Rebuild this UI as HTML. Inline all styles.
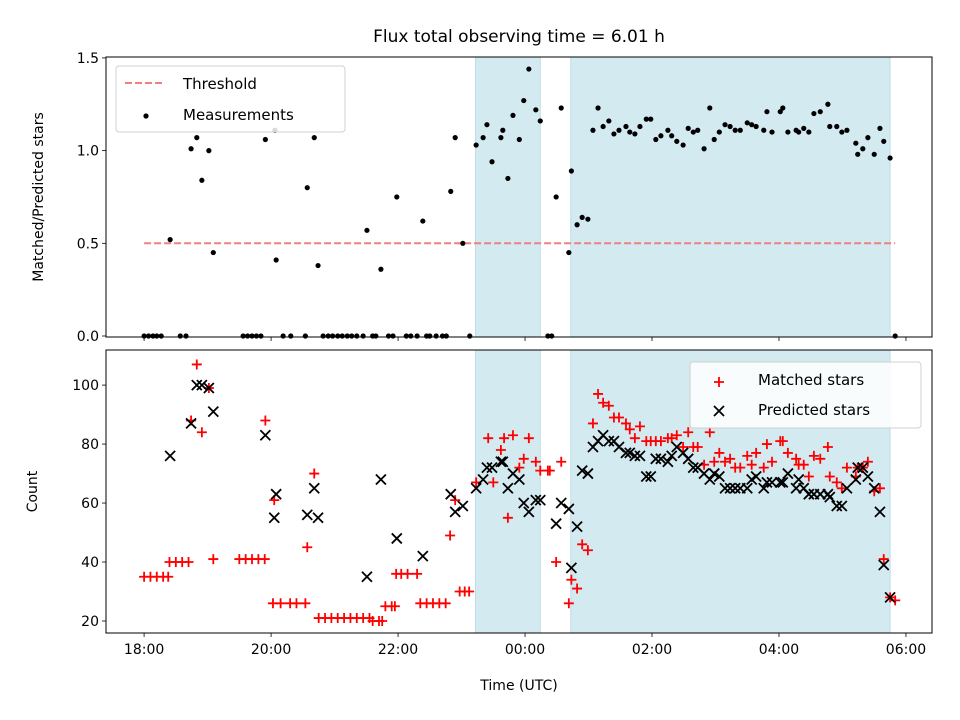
<!DOCTYPE html>
<html><head><meta charset="utf-8"><style>body{margin:0;background:#fff}svg{display:block;font-family:"DejaVu Sans","Liberation Sans",sans-serif}</style></head>
<body>
<svg id="c" width="960" height="720" xmlns="http://www.w3.org/2000/svg"></svg>
<script>
const xTickLabels=["18:00","20:00","22:00","00:00","02:00","04:00","06:00"];
const xTickHours=[0,2,4,6,8,10,12];
const topYTicks=[0,0.5,1.0,1.5];
const botYTicks=[20,40,60,80,100];
const shadeSpans=[[5.22,6.24],[6.72,11.75]];
const threshold=0.5;
const topT=[0,0.07,0.14,0.2,0.27,0.41,0.57,0.66,0.74,0.83,0.91,1.02,1.09,1.56,1.63,1.7,1.77,1.84,1.91,2.06,2.08,2.19,2.31,2.54,2.57,2.68,2.74,2.82,2.9,2.97,3.05,3.12,3.2,3.27,3.35,3.45,3.51,3.6,3.65,3.73,3.85,3.92,3.98,4.13,4.2,4.3,4.39,4.45,4.5,4.6,4.7,4.76,4.83,4.9,5.02,5.13,5.23,5.34,5.4,5.48,5.62,5.65,5.73,5.81,5.91,5.98,6.06,6.17,6.24,6.36,6.42,6.49,6.57,6.69,6.73,6.82,6.9,6.99,7.07,7.15,7.23,7.32,7.4,7.48,7.59,7.65,7.73,7.81,7.91,7.98,8.06,8.14,8.25,8.31,8.39,8.49,8.57,8.65,8.72,8.82,8.91,8.98,9.06,9.15,9.23,9.31,9.39,9.5,9.57,9.64,9.76,9.81,9.89,10.02,10.06,10.14,10.27,10.31,10.39,10.47,10.55,10.65,10.77,10.8,10.91,10.99,11.07,11.21,11.24,11.32,11.4,11.5,11.59,11.65,11.75,11.83];
const topV=[0,0,0,0,0,0.52,0,0,1.01,1.07,0.84,1.0,0.45,0,0,0,0,0,1.06,1.11,0.41,0,0,0,0.8,1.07,0.38,0,0,0,0,0,0,0,0,0,0.57,0,0,0.36,0,0,0.75,0,0,0,0.62,0,0,0,0,0,0.78,1.07,0.5,0,1.03,1.07,1.14,0.94,1.07,1.11,0.85,1.19,1.06,1.27,1.44,1.22,1.16,0,0,0.75,1.23,0.45,0.89,0.6,0.64,0.63,1.11,1.23,1.13,1.16,1.09,1.11,1.13,1.1,1.09,1.13,1.17,1.17,1.06,1.08,1.11,1.08,1.05,1.03,1.12,1.1,1.11,1.01,1.23,1.06,1.1,1.14,1.13,1.11,1.11,1.15,1.14,1.13,1.11,1.21,1.1,1.21,1.23,1.1,1.11,1.1,1.12,1.1,1.2,1.21,1.25,1.13,1.13,1.1,1.11,1.04,0.98,1.01,1.07,0.98,1.12,1.05,0.96,0];
const matchedT=[0,0.1,0.2,0.3,0.38,0.4,0.5,0.6,0.7,0.74,0.83,0.91,1.02,1.09,1.5,1.6,1.7,1.8,1.9,1.91,2.03,2.05,2.15,2.3,2.4,2.54,2.57,2.68,2.75,2.85,2.95,3.05,3.15,3.25,3.35,3.45,3.55,3.6,3.7,3.75,3.8,3.9,3.95,3.97,4.05,4.15,4.3,4.35,4.45,4.55,4.65,4.75,4.82,4.9,4.97,5.05,5.12,5.23,5.42,5.5,5.62,5.67,5.73,5.81,5.91,5.98,6.06,6.17,6.24,6.36,6.39,6.49,6.57,6.69,6.73,6.82,6.9,6.99,7.07,7.15,7.23,7.32,7.4,7.48,7.59,7.65,7.73,7.81,7.91,7.98,8.06,8.14,8.25,8.31,8.39,8.49,8.57,8.65,8.72,8.82,8.91,8.98,9.06,9.15,9.23,9.31,9.39,9.5,9.57,9.64,9.76,9.81,9.89,10.02,10.06,10.14,10.27,10.31,10.39,10.47,10.55,10.65,10.77,10.8,10.91,10.99,11.07,11.21,11.24,11.32,11.4,11.5,11.59,11.65,11.75,11.83];
const matchedV=[35,35,35,35,35,40,40,40,40,88,107,84,99,41,41,41,41,41,41,88,26,61,26,26,26,26,45,70,21,21,21,21,21,21,21,21,21,20,20,20,25,25,25,36,36,36,36,26,26,26,26,26,49,61,30,30,30,67,82,67,78,82,55,83,72,75,82,74,71,71,71,40,74,26,34,31,46,44,87,97,94,93,89,89,87,85,82,86,81,81,81,81,82,82,83,79,84,79,79,73,84,74,77,74,75,72,72,76,73,77,72,80,74,81,81,77,75,73,73,69,76,75,79,69,67,65,72,69,72,72,74,64,65,41,28,27];
const predT=[0.41,0.74,0.83,0.91,1.02,1.09,1.91,2.05,2.08,2.57,2.68,2.74,3.51,3.73,3.98,4.39,4.83,4.9,5.02,5.23,5.34,5.4,5.48,5.62,5.65,5.73,5.81,5.91,5.98,6.06,6.17,6.24,6.49,6.57,6.69,6.73,6.82,6.9,6.99,7.07,7.15,7.23,7.32,7.4,7.48,7.59,7.65,7.73,7.81,7.91,7.98,8.06,8.14,8.25,8.31,8.39,8.49,8.57,8.65,8.72,8.82,8.91,8.98,9.06,9.15,9.23,9.31,9.39,9.5,9.57,9.64,9.76,9.81,9.89,10.02,10.06,10.14,10.27,10.31,10.39,10.47,10.55,10.65,10.77,10.8,10.91,10.99,11.07,11.21,11.24,11.32,11.4,11.5,11.59,11.65,11.75];
const predV=[76,87,100,100,99,91,83,55,63,56,65,55,35,68,48,42,63,57,59,65,68,72,72,74,74,65,70,68,60,57,61,61,53,60,58,38,52,71,70,79,81,83,81,81,79,77,77,76,76,69,69,75,75,74,76,79,77,75,72,72,70,68,70,69,65,65,65,65,65,68,69,65,67,67,67,67,70,65,68,65,63,63,63,63,62,59,59,65,68,72,72,69,65,57,39,28];

const svg=document.getElementById('c');const NS='http://www.w3.org/2000/svg';
function mk(tag,attrs,parent){const e=document.createElementNS(NS,tag);for(const k in attrs)e.setAttribute(k,attrs[k]);(parent||svg).appendChild(e);return e;}
const L=106,R=932;const T0=-0.6,T1=12.41;
const xS=t=>L+(t-T0)/(T1-T0)*(R-L);
const tA={top:57,bot:337,y0:-0.0054,y1:1.505};
const bA={top:350,bot:633,y0:15.93,y1:111.9};
const yT=v=>tA.bot-(v-tA.y0)/(tA.y1-tA.y0)*(tA.bot-tA.top);
const yB=v=>bA.bot-(v-bA.y0)/(bA.y1-bA.y0)*(bA.bot-bA.top);
function txt(x,y,s,anchor,size,name,extra){const e=mk('text',Object.assign({x:x,y:y,'text-anchor':anchor,'font-size':size,fill:'#000'},extra||{}));e.textContent=s;return e;}

txt(519,42,'Flux total observing time = 6.01 h','middle',17,'chart-title');

function panel(A,yF,ticks,tickFmt,label,pname,showXLabels){
  const g=mk('g',{});
  
  
  shadeSpans.forEach((s,i)=>{const r=mk('rect',{x:xS(s[0]),y:A.top,width:xS(s[1])-xS(s[0]),height:A.bot-A.top,fill:'#d4eaf1',stroke:'#bcdde8','stroke-width':1},g);
    
    });
  ticks.forEach(v=>{const y=yF(v);mk('line',{x1:L-4,x2:L,y1:y,y2:y,stroke:'#000','stroke-width':0.8},g);
    txt(L-7,y+5,tickFmt(v),'end',14,'y-tick-label');});
  xTickHours.forEach((h,i)=>{const x=xS(h);mk('line',{x1:x,x2:x,y1:A.bot,y2:A.bot+4,stroke:'#000','stroke-width':0.8},g);
    if(showXLabels)txt(x,A.bot+21,xTickLabels[i],'middle',14,'x-tick-label');});
  txt(0,0,label,'middle',14,'y-axis-title',{transform:`translate(${pname==='top-panel'?43:37},${(A.top+A.bot)/2}) rotate(-90)`});
  return g;
}
panel(tA,yT,topYTicks,v=>v.toFixed(1),'Matched/Predicted stars','top-panel',false);
panel(bA,yB,botYTicks,v=>String(v),'Count','bottom-panel',true);
txt(519,690,'Time (UTC)','middle',14,'x-axis-title');

const th=mk('line',{x1:xS(0),x2:xS(11.83),y1:yT(threshold),y2:yT(threshold),stroke:'#f08080','stroke-width':2,'stroke-dasharray':'7,3'});


topT.forEach((t,i)=>{const c=mk('circle',{cx:xS(t),cy:yT(topV[i]),r:2.6,fill:'#000'});
  
  });
function plus(x,y,parent,name){const g=mk('path',{d:`M${x-5},${y}H${x+5}M${x},${y-5}V${y+5}`,stroke:'#ff0000','stroke-width':1.8,fill:'none'},parent);
  
  }
function cross(x,y,parent,name){const g=mk('path',{d:`M${x-5},${y-5}L${x+5},${y+5}M${x-5},${y+5}L${x+5},${y-5}`,stroke:'#000','stroke-width':1.8,fill:'none'},parent);
  
  }
matchedT.forEach((t,i)=>plus(xS(t),yB(matchedV[i]),svg,'matched-star-point'));
predT.forEach((t,i)=>cross(xS(t),yB(predV[i]),svg,'predicted-star-point'));

[tA,bA].forEach((A,i)=>{const r=mk('rect',{x:L,y:A.top,width:R-L,height:A.bot-A.top,fill:'none',stroke:'#000','stroke-width':1});
  
  });

const lg1=mk('g',{});


mk('rect',{x:116,y:66,width:229,height:66,rx:3,fill:'#fff','fill-opacity':0.85,stroke:'#d0d0d0'},lg1);
mk('line',{x1:125,x2:165,y1:83,y2:83,stroke:'#f08080','stroke-width':2,'stroke-dasharray':'7,3'},lg1);
mk('circle',{cx:146,cy:116,r:2.6,fill:'#000'},lg1);
lg1.appendChild(txt(183,89,'Threshold','start',15,'legend-entry-threshold'));
lg1.appendChild(txt(183,120,'Measurements','start',15,'legend-entry-measurements'));
const lg2=mk('g',{});


mk('rect',{x:690,y:362,width:231,height:66,rx:3,fill:'#fff','fill-opacity':0.85,stroke:'#d0d0d0'},lg2);
plus(719,382,lg2,'legend-marker-matched');
cross(719,411,lg2,'legend-marker-predicted');
lg2.appendChild(txt(758,385,'Matched stars','start',15,'legend-entry-matched'));
lg2.appendChild(txt(758,415,'Predicted stars','start',15,'legend-entry-predicted'));
</script>
</body></html>
